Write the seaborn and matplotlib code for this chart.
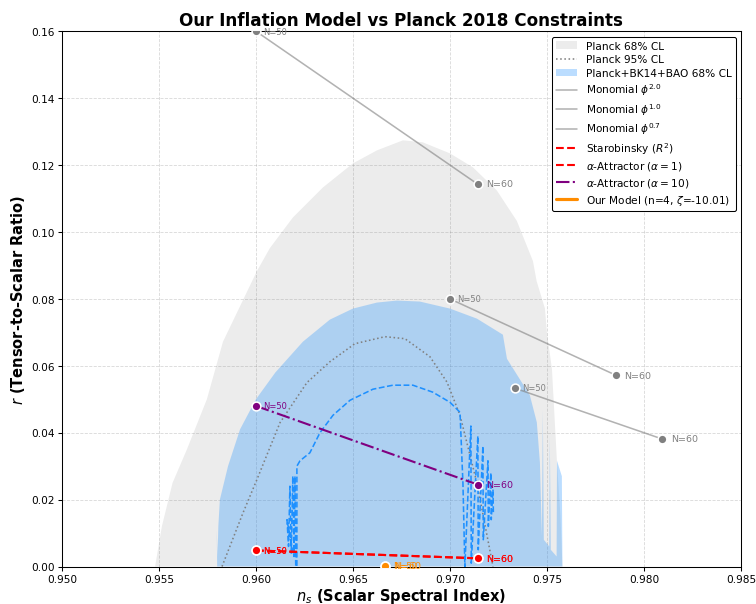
import numpy as np
import pandas as pd
import matplotlib
matplotlib.use("Agg")
import matplotlib.pyplot as plt
import seaborn as sns

# Planck 68% region (outline)
planck68_ns = [0.9548, 0.95515, 0.9557, 0.95644, 0.95747, 0.9583, 0.96005, 0.96072,
               0.9619, 0.96345, 0.9650, 0.96624, 0.96758, 0.9686, 0.9700, 0.97119,
               0.97242, 0.97345, 0.97428, 0.97447, 0.9749, 0.975, 0.97526, 0.9754,
               0.97552, 0.9757, 0.9758]
planck68_r = [0.0, 0.012, 0.025, 0.035, 0.050, 0.0672, 0.0883, 0.0952,
              0.1043, 0.1133, 0.1205, 0.1244, 0.1274, 0.1268, 0.1235, 0.1193,
              0.1124, 0.1033, 0.0913, 0.0853, 0.0771, 0.070, 0.059, 0.044,
              0.031, 0.015, 0.0]

# Planck 95% contour (dotted)
planck95_ns = [0.95825, 0.95933, 0.96005, 0.96124, 0.96263, 0.96381, 0.9651,
               0.96665, 0.96768, 0.96897, 0.96985, 0.97052, 0.97139, 0.97222]
planck95_r = [0.0, 0.016, 0.026, 0.043, 0.055, 0.0612, 0.0666,
              0.0687, 0.0681, 0.0627, 0.0551, 0.0452, 0.025, 0.0]

# Planck+BK14+BAO region
bk14_ns = [0.95800, 0.95798, 0.95802, 0.95806, 0.95814, 0.95856, 0.95918, 0.9600,
           0.9610, 0.96242, 0.96381, 0.9650, 0.96624, 0.96727, 0.96845, 0.9700,
           0.97139, 0.97273, 0.97294, 0.97412, 0.97448, 0.97464, 0.97474, 0.97479,
           0.97484, 0.97512, 0.97515, 0.97520, 0.97550, 0.97552, 0.97577, 0.97580]
bk14_r = [0.0, 0.0108, 0.003, 0.012, 0.020, 0.030, 0.041, 0.050,
          0.058, 0.0672, 0.0738, 0.0771, 0.0789, 0.0795, 0.0792, 0.0771,
          0.0741, 0.0693, 0.0621, 0.0512, 0.0431, 0.031, 0.009, 0.0467,
          0.008, 0.006, 0.039, 0.005, 0.003, 0.0316, 0.027, 0.0]

# jagged dashed contour
contour_ns = [0.96190, 0.96160, 0.96168, 0.96175, 0.96182, 0.96190, 0.96196, 0.96201,
              0.96205, 0.96211, 0.96211, 0.96227, 0.96278, 0.9633, 0.96397, 0.96485,
              0.96603, 0.96706, 0.96809, 0.96912, 0.9700, 0.97052, 0.97067, 0.97077,
              0.97108, 0.97110, 0.97144, 0.97146, 0.97170, 0.97172, 0.97196, 0.97198,
              0.97211, 0.97213, 0.97222, 0.97224]
contour_r = [0.004, 0.014, 0.006, 0.024, 0.004, 0.027, 0.003, 0.027,
             0.0, 0.0, 0.030, 0.0316, 0.034, 0.040, 0.0452, 0.0497,
             0.0530, 0.0542, 0.0542, 0.0521, 0.0491, 0.0461, 0.025, 0.0,
             0.042, 0.001, 0.039, 0.005, 0.036, 0.008, 0.0316, 0.012,
             0.028, 0.014, 0.023, 0.016]

# model predictions at the two e-fold values
model_names = [r'Monomial $\phi^{2.0}$', r'Monomial $\phi^{1.0}$', r'Monomial $\phi^{0.7}$',
               r'Starobinsky ($R^2$)', r'$\alpha$-Attractor ($\alpha = 1$)',
               r'$\alpha$-Attractor ($\alpha = 10$)', r'Our Model (n=4, $\zeta$=-10.01)']
ns_N50 = [0.9600, 0.9700, 0.97333, 0.9600, 0.9600, 0.9600, 0.96667]
r_N50 = [0.160, 0.080, 0.05333, 0.0048, 0.0048, 0.048, 0.0001]
ns_N60 = [0.97143, 0.97857, 0.98095, 0.97143, 0.97143, 0.97143, 0.96667]
r_N60 = [0.11429, 0.05714, 0.03810, 0.00245, 0.00245, 0.02449, 0.0001]

colors = ['gray', 'gray', 'gray', 'red', 'red', 'purple', 'darkorange']
styles = ['-', '-', '-', '--', '--', '-.', '-']
widths = [1.5, 1.5, 1.5, 2, 2, 2, 3]
alphas = [0.6, 0.6, 0.6, 1, 1, 1, 1]

sns.set_style("ticks")
plt.rcParams.update({'text.color': 'black', 'axes.labelcolor': 'black',
                     'xtick.color': 'black', 'ytick.color': 'black',
                     'axes.edgecolor': 'black', 'axes.linewidth': 1.0,
                     'xtick.major.width': 1.0, 'ytick.major.width': 1.0})
fig, ax = plt.subplots(figsize=(10, 8), dpi=75.6)

ax.fill(planck68_ns, planck68_r, color='gray', alpha=0.15, lw=0, label='Planck 68% CL')
sns.lineplot(x=planck95_ns, y=planck95_r, ax=ax, sort=False, estimator=None,
             color='gray', linestyle=':', lw=1.5, label='Planck 95% CL')
ax.fill(bk14_ns, bk14_r, color='dodgerblue', alpha=0.3, lw=0, label='Planck+BK14+BAO 68% CL')
sns.lineplot(x=contour_ns, y=contour_r, ax=ax, sort=False, estimator=None,
             color='dodgerblue', linestyle='--', lw=1.5)

for i, name in enumerate(model_names):
    sns.lineplot(x=[ns_N50[i], ns_N60[i]], y=[r_N50[i], r_N60[i]], ax=ax, sort=False,
                 estimator=None, color=colors[i], linestyle=styles[i], lw=widths[i],
                 alpha=alphas[i], label=name)
    sns.scatterplot(x=[ns_N50[i], ns_N60[i]], y=[r_N50[i], r_N60[i]], ax=ax,
                    color=colors[i], s=70, edgecolor='white', linewidth=1.5, zorder=5)
    ax.annotate('N=50', (ns_N50[i], r_N50[i]), xytext=(7, 0), textcoords='offset points',
                va='center', fontsize=8, color=colors[i])
    ax.annotate('N=60', (ns_N60[i], r_N60[i]), xytext=(8, 0), textcoords='offset points',
                va='center', fontsize=9, color=colors[i])

ax.set_xlim(0.950, 0.985)
ax.set_ylim(0, 0.16)
ax.set_xlabel(r'$n_s$ (Scalar Spectral Index)', fontsize=14, fontweight='bold', labelpad=2)
ax.set_ylabel(r'$r$ (Tensor-to-Scalar Ratio)', fontsize=14, fontweight='bold')
ax.set_title('Our Inflation Model vs Planck 2018 Constraints', fontsize=16, fontweight='bold')
ax.grid(True, linestyle='--', color='gray', alpha=0.3)
leg = ax.legend(loc='upper right', fontsize=10, framealpha=1, labelspacing=0.35)
leg.get_frame().set_edgecolor('black')

fig.subplots_adjust(left=0.082, right=0.980, top=0.947, bottom=0.062)
plt.savefig('out.png', dpi=75.6)
